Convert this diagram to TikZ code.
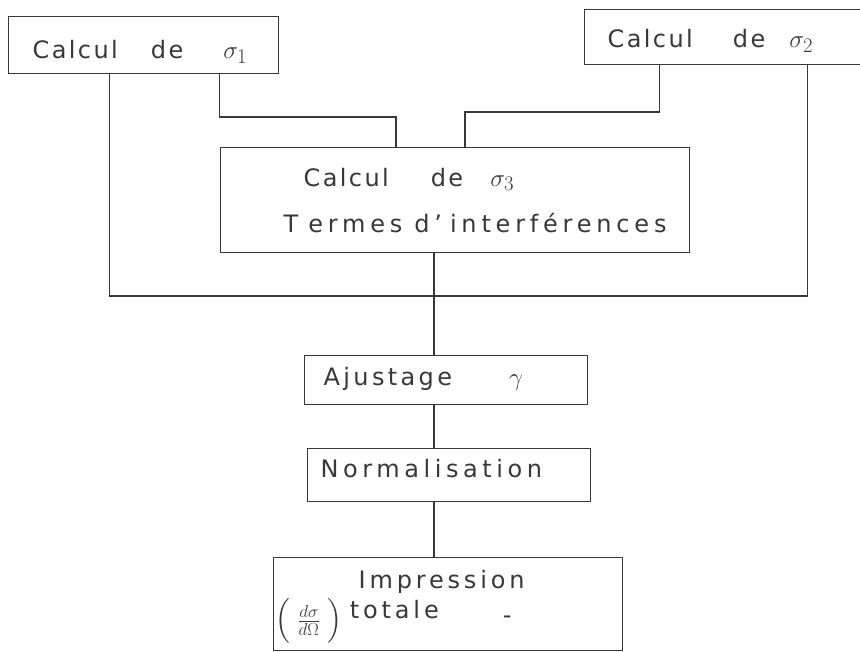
\documentclass[tikz,border=0pt]{standalone}
\usepackage{fontspec}
\setmainfont{DejaVu Sans}[LetterSpace=10]
\usepackage{amsmath}
\usetikzlibrary{positioning}
\definecolor{ink}{gray}{0.22}
\newcommand{\sig}[1]{{\fontsize{30}{30}\selectfont$\sigma_{#1}$}}
\newcommand{\track}[1]{\addfontfeatures{LetterSpace=#1}}

\begin{document}
\begin{tikzpicture}[x=1pt,y=-1pt,line width=1.3pt,
                    box/.style={draw=ink,anchor=north west,inner ysep=0pt,align=left,
                                text=ink,font=\fontsize{24}{29}\selectfont},
                    wire/.style={draw=ink}]

  \useasboundingbox (0,0) rectangle (860,652);
  \clip (0,0) rectangle (860,652);

  % the three computing blocks
  \node[box,inner xsep=24pt,text width=222pt,text height=42pt,text depth=15pt] (s1) at (8,16)
        {Calcul\hspace{33pt}de\hspace{40pt}\sig{1}};
  \node[box,inner xsep=23pt,text width=245pt,text height=38pt,text depth=17pt] (s2) at (584,9)
        {Calcul\hspace{40pt}de\hspace{24pt}\sig{2}};
  \node[box,inner xsep=0pt,text width=469pt,minimum height=105pt] (s3) at (220,147)
        {\hspace*{83pt}Calcul\hspace{42pt}de\hspace{27pt}\sig{3}\\[17pt]
         \hspace*{63pt}{\track{20}T\kern10pt ermes\hspace{12pt}d'\hspace{8pt}interférences}};

  % the chain below
  \node[box,inner xsep=19pt,text width=245pt,text height=30pt,text depth=19pt] (ajust) at (304,355)
        {{\track{14}Ajustage}\hspace{57pt}{\fontsize{30}{30}\selectfont$\gamma$}};
  \node[box,inner xsep=13pt,text width=257pt,text height=29pt,text depth=24pt] (norm) at (307,448)
        {\track{19}Normalisation};
  \node[box,inner xsep=0pt,text width=349pt,minimum height=93pt,
        font=\fontsize{24}{29}\selectfont\track{16}] (impr) at (273,557)
        {\hspace*{85pt}Impression\\[1pt]
         \hspace*{2pt}\raisebox{-9pt}[0pt][0pt]{\fontsize{26}{26}\selectfont
           $\Big(\;\frac{d\sigma}{d\Omega}\;\Big)$}\hspace{8pt}totale\hspace{64pt}\raisebox{-5pt}{-}\rule[-20pt]{0pt}{20pt}};

  % connectors
  \coordinate (bus) at (434,296);
  \coordinate (k1) at (396,117);
  \coordinate (k2) at (465,112);

  \draw[wire] ([xshift=-34pt]s1.south) |- (bus) -| ([xshift=77.5pt]s2.south);
  \draw[wire] ([xshift=76pt]s1.south) |- (k1) -- (k1 |- s3.north);
  \draw[wire] ([xshift=-70.5pt]s2.south) |- (k2) -- (k2 |- s3.north);

  \draw[wire] (s3.south -| bus) -- (ajust.north -| bus);
  \draw[wire] (ajust.south -| bus) -- (norm.north -| bus);
  \draw[wire] (norm.south -| bus) -- (impr.north -| bus);

\end{tikzpicture}
\end{document}
